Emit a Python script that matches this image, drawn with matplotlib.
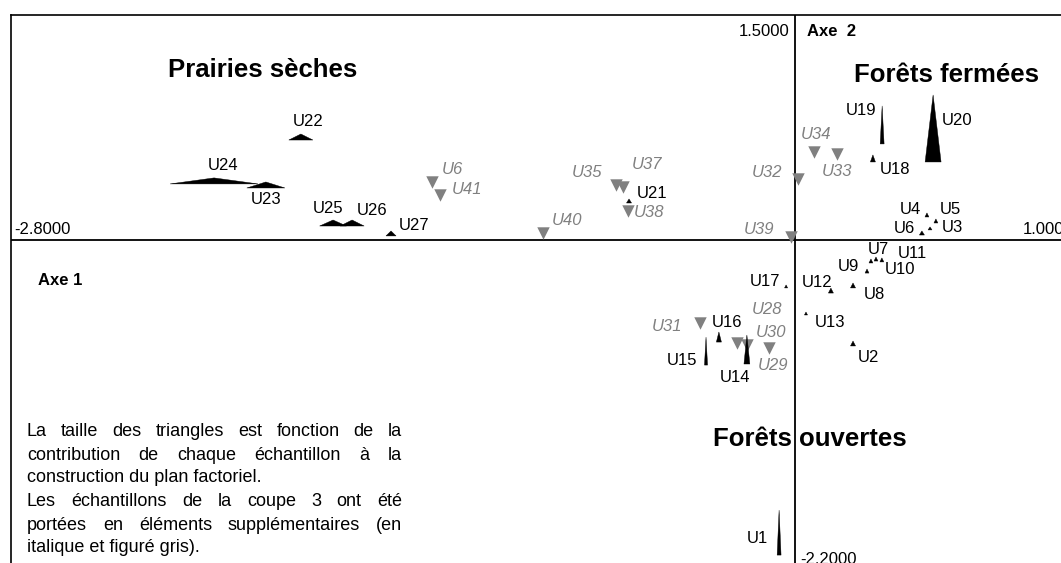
import matplotlib
matplotlib.use('Agg')
import matplotlib.pyplot as plt
from matplotlib.patches import Polygon

plt.rcParams['font.family'] = ['Liberation Sans', 'DejaVu Sans']

# échantillons actifs : coordonnées (axe 1, axe 2) et contributions (largeur / hauteur du triangle)
act_names = ['U22', 'U24', 'U23', 'U25', 'U26', 'U27', 'U21', 'U19', 'U20', 'U18',
             'U4', 'U5', 'U3', 'U6', 'U7', 'U11', 'U10', 'U9', 'U12', 'U8',
             'U17', 'U13', 'U2', 'U16', 'U15', 'U14', 'U1']
act_x = [-1.763, -2.073, -1.888, -1.648, -1.580, -1.441, -0.591, 0.313, 0.495, 0.280,
         0.473, 0.505, 0.484, 0.455, 0.273, 0.291, 0.312, 0.259, 0.130, 0.209,
         -0.030, 0.041, 0.209, -0.270, -0.316, -0.170, -0.055]
act_y = [0.665, 0.373, 0.346, 0.093, 0.093, 0.027, 0.246, 0.639, 0.519, 0.519,
         0.153, 0.113, 0.067, 0.033, -0.153, -0.140, -0.146, -0.220, -0.353, -0.319,
         -0.319, -0.499, -0.705, -0.679, -0.832, -0.825, -2.096]
act_ctr1 = [0.086, 0.314, 0.136, 0.096, 0.086, 0.036, 0.018, 0.014, 0.057, 0.018,
            0.014, 0.014, 0.014, 0.018, 0.014, 0.014, 0.014, 0.014, 0.018, 0.018,
            0.011, 0.011, 0.018, 0.018, 0.011, 0.021, 0.014]
act_ctr2 = [0.040, 0.040, 0.040, 0.040, 0.040, 0.033, 0.027, 0.253, 0.446, 0.047,
            0.027, 0.027, 0.020, 0.027, 0.027, 0.027, 0.027, 0.027, 0.033, 0.033,
            0.020, 0.020, 0.033, 0.067, 0.186, 0.193, 0.299]

# échantillons supplémentaires (coupe 3)
sup_names = ['U6', 'U41', 'U40', 'U35', 'U37', 'U38', 'U32', 'U39', 'U34', 'U33',
             'U31', 'U28', 'U30', 'U29']
sup_x = [-1.295, -1.266, -0.898, -0.638, -0.613, -0.595, 0.013, -0.013, 0.070, 0.152,
         -0.338, -0.205, -0.170, -0.091]
sup_y = [0.386, 0.299, 0.047, 0.366, 0.353, 0.193, 0.406, 0.020, 0.585, 0.572,
         -0.552, -0.685, -0.699, -0.719]

# décalage des étiquettes (pixels)
act_off = [(7, 19), (9, 18), (0, -12), (-5, 18), (20, 16), (23, 10), (23, 10), (-21, 33),
           (24, 41), (22, -8), (-17, 7), (14, 13), (22, 2), (-18, 7), (7, 13), (36, 8),
           (18, -8), (-19, 7), (-14, 11), (21, -7), (-21, 6), (24, -8), (15, -12),
           (8, 20), (-24, 5), (-12, -13), (-22, 17)]
sup_off = [(20, 12), (27, 6), (24, 12), (-29, 12), (24, 22), (21, -2), (-31, 6), (-32, 7),
           (2, 18), (0, -17), (-33, -4), (30, 33), (24, 13), (4, -17)]

note = ["La taille des triangles est fonction de la",
        "contribution de chaque échantillon à la",
        "construction du plan factoriel.",
        "Les échantillons de la coupe 3 ont été",
        "portées en éléments supplémentaires (en",
        "italique et figuré gris)."]
justified = [True, True, False, True, True, False]

W, H = 1061, 563
fig = plt.figure(figsize=(W / 100, H / 100), dpi=100)
ax = fig.add_axes([10.5 / W, -7.7 / H, 1064 / W, 556.2 / H])
ax.set_xlim(-2.8, 1.0)
ax.set_ylim(-2.2, 1.5)
ax.set_xticks([])
ax.set_yticks([])
for s in ax.spines.values():
    s.set_linewidth(1.2)
ax.axhline(0, color='black', lw=1.3, zorder=1)
ax.axvline(0, color='black', lw=1.3, zorder=1)

grey = '#808080'
ax.scatter(sup_x, sup_y, marker='v', s=80, color=grey, linewidths=0, zorder=2)
for n, x, y, o in zip(sup_names, sup_x, sup_y, sup_off):
    ax.annotate(n, (x, y), xytext=o, textcoords='offset pixels', ha='center', va='center',
                fontsize=12, style='italic', color=grey)

for n, x, y, w, h, o in zip(act_names, act_x, act_y, act_ctr1, act_ctr2, act_off):
    ax.add_patch(Polygon([(x - w / 2, y), (x + w / 2, y), (x, y + h)], closed=True,
                         facecolor='black', edgecolor='black', lw=0.3, zorder=3))
    ax.annotate(n, (x, y), xytext=o, textcoords='offset pixels', ha='center', va='center',
                fontsize=12, color='black')

def fx(px):
    return px / W

def fy(py):
    return 1 - py / H

# graduations et titres des axes
fig.text(fx(14), fy(229), '-2.8000', fontsize=12, va='center', ha='left')
fig.text(fx(1074), fy(229), '1.0000', fontsize=12, va='center', ha='right')
fig.text(fx(790), fy(31), '1.5000', fontsize=12, va='center', ha='right')
fig.text(fx(800), fy(559), '-2.2000', fontsize=12, va='center', ha='left')
fig.text(fx(807), fy(32), 'Axe  2', fontsize=12, fontweight='bold', va='center')
fig.text(fx(38), fy(280), 'Axe 1', fontsize=12, fontweight='bold', va='center')

fig.text(fx(263), fy(70), 'Prairies sèches', fontsize=18.5, fontweight='bold', ha='center', va='center')
fig.text(fx(946), fy(75), 'Forêts fermées', fontsize=18.5, fontweight='bold', ha='center', va='center')
fig.text(fx(810), fy(439), 'Forêts ouvertes', fontsize=18.5, fontweight='bold', ha='center', va='center')

# paragraphe justifié
renderer = fig.canvas.get_renderer()
left, right = 27, 402
line_y = [432, 455, 478, 501, 525, 548]
for line, just, ly in zip(note, justified, line_y):
    if not just:
        fig.text(fx(left), fy(ly), line, fontsize=13, va='center')
        continue
    words = line.split()
    texts = [fig.text(0, fy(ly), wd, fontsize=13, va='center') for wd in words]
    widths = [t.get_window_extent(renderer).width for t in texts]
    gap = (right - left - sum(widths)) / (len(words) - 1)
    xpos = left
    for t, wdt in zip(texts, widths):
        t.set_x(fx(xpos))
        xpos += wdt + gap

fig.savefig('out.png', dpi=100)
